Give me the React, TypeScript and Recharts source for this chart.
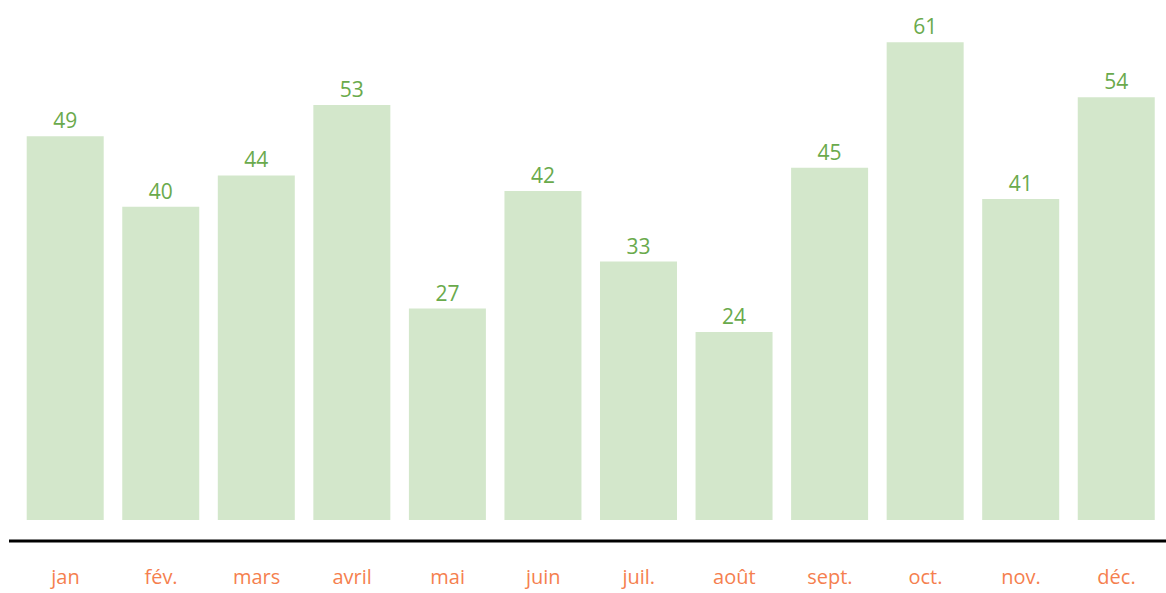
import React from "react";
import { BarChart, Bar, XAxis, YAxis, LabelList } from "recharts";

const months = ["jan", "fév.", "mars", "avril", "mai", "juin", "juil.", "août", "sept.", "oct.", "nov.", "déc."];
const values = [49, 40, 44, 53, 27, 42, 33, 24, 45, 61, 41, 54];

const data = months.map((m, i) => ({ month: m, value: values[i] }));

export default function App() {
  return (
    <div style={{ position: "absolute", left: 0, top: 0, width: 1166, height: 593 }}>
      <BarChart
        width={1166}
        height={593}
        data={data}
        margin={{ top: 10, right: 0, bottom: 2, left: 9 }}
      >
        <XAxis
          dataKey="month"
          padding={{ left: 8.7, right: 1.7 }}
          axisLine={{ stroke: "#000", strokeWidth: 3 }}
          tickLine={false}
          tickMargin={23}
          height={50}
          interval={0}
          tick={{ fill: "#f57f4f", fontSize: 20, fontFamily: "Open Sans" }}
        />
        <YAxis hide domain={[-2.68, 65.13]} allowDataOverflow />
        <Bar dataKey="value" fill="#d3e7cb" barSize={77} isAnimationActive={false}>
          <LabelList
            dataKey="value"
            position="top"
            offset={8}
            fill="#6aaa4c"
            fontSize={21}
            fontFamily="Open Sans"
          />
        </Bar>
      </BarChart>
    </div>
  );
}
